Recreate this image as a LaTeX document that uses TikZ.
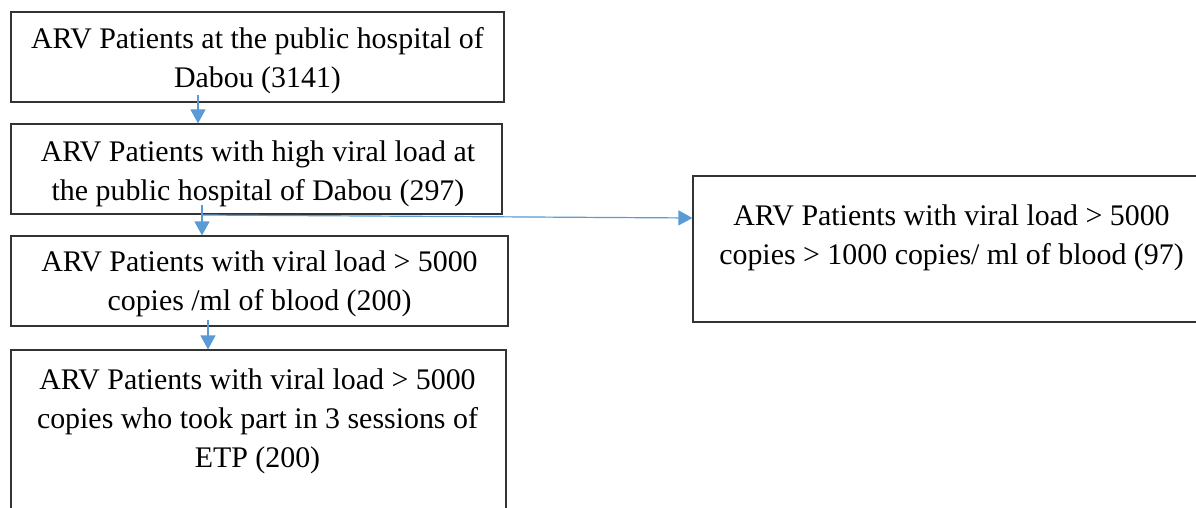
\documentclass[tikz,border=0pt]{standalone}
\usepackage{fontspec}
\setmainfont{Liberation Serif}
\usetikzlibrary{arrows.meta,positioning}
\definecolor{flowblue}{HTML}{5B9BD5}
\begin{document}
\begin{tikzpicture}[x=1pt,y=-1pt]
\tikzset{ >={Triangle[width=15pt,length=14pt]},
  box/.style={draw=black!80, line width=1.2pt, rectangle, inner sep=0pt},
  txt/.style={align=center, inner sep=0pt, font=\fontsize{29.9}{39}\selectfont},
  flow/.style={->, draw=flowblue, fill=flowblue, line width=1.2pt},
}

\clip (0,0) rectangle (1196,508);

% boxes
\node [box, minimum width=493pt, minimum height=90pt]  (B1) at (257.5,57)  {};
\node [box, minimum width=491pt, minimum height=90pt]  (B2) at (256.5,169) {};
\node [box, minimum width=497pt, minimum height=90pt]  (B3) at (259.5,281) {};
\node [box, minimum width=495pt, minimum height=180pt] (B4) at (258.5,440) {};
\node [box, minimum width=517pt, minimum height=146pt] (B5) at (951.5,249) {};

% texts
\node [txt] (T1) at (257.5,60.5)  {ARV Patients at the public hospital of\\Dabou (3141)};
\node [txt] (T2) at (258.0,173.5) {ARV Patients with high viral load at\\the public hospital of Dabou (297)};
\node [txt] (T3) at (259.5,283.5) {ARV Patients with viral load > 5000\\copies /ml of blood (200)};
\node [txt] (T4) at (257.5,421)   {ARV Patients with viral load > 5000\\copies who took part in 3 sessions of\\ETP (200)};
\node [txt] (T5) at (951.5,237.5) {ARV Patients with viral load > 5000\\copies > 1000 copies/ ml of blood (97)};

% connectors
\coordinate (S1) at (198,95);
\coordinate (S2) at (202,205);
\coordinate (S3) at (202,215);
\coordinate (E5) at (B5.west |- 0,218);
\coordinate (S4) at (208,320);

\draw [flow] (S1) -- (S1 |- B2.north);
\draw [flow] (S2) -- (S2 |- B3.north);
\draw [flow] (S3) -- (E5);
\draw [flow] (S4) -- (S4 |- B4.north);
\end{tikzpicture}
\end{document}
